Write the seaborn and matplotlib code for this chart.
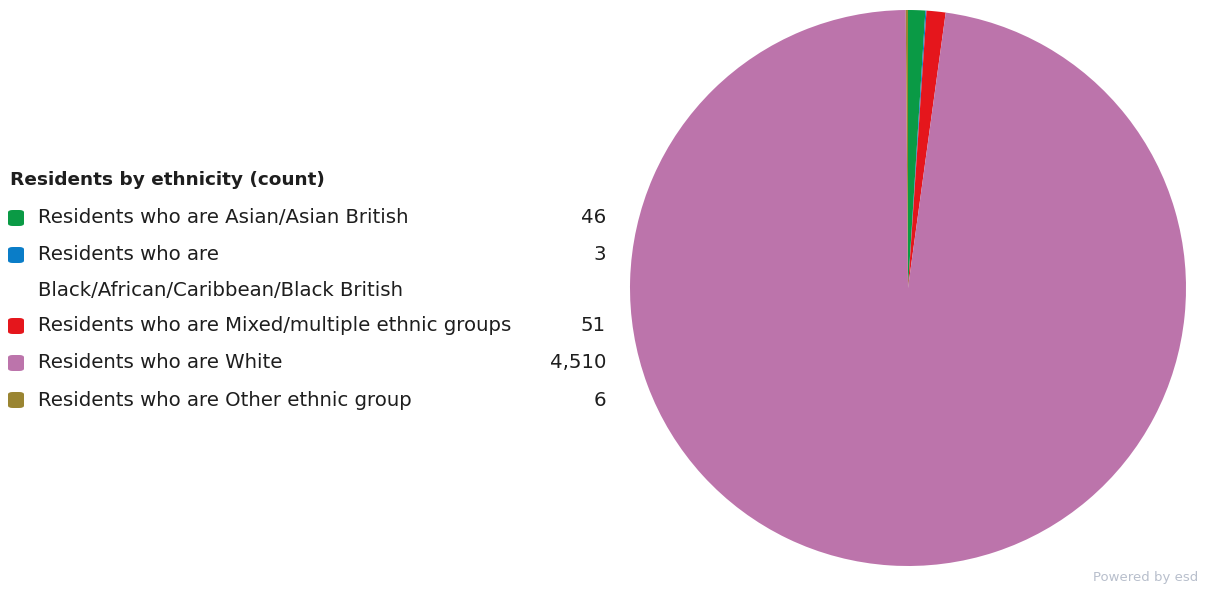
import matplotlib
matplotlib.use("Agg")
import matplotlib.pyplot as plt
from matplotlib.patches import FancyBboxPatch
import seaborn as sns

sns.set_theme(style="white")
plt.rcParams['font.family'] = ['DejaVu Sans']

# data
groups = ["Residents who are Asian/Asian British",
          "Residents who are\nBlack/African/Caribbean/Black British",
          "Residents who are Mixed/multiple ethnic groups",
          "Residents who are White",
          "Residents who are Other ethnic group"]
counts = [46, 3, 51, 4510, 6]
colours = ["#0a9a45", "#0a7dc8", "#e5161c", "#bc74ab", "#9a8532"]
palette = sns.color_palette(colours)

fig = plt.figure(figsize=(12.05, 5.90), dpi=100)
W, H = 1205, 590

# pie
cx, cy, r = 908, 288, 278
ax = fig.add_axes([(cx - r) / W, (H - cy - r) / H, 2 * r / W, 2 * r / H])
ax.pie(counts, colors=palette, startangle=90, counterclock=False,
       radius=1, wedgeprops=dict(linewidth=0))
ax.set_xlim(-1, 1)
ax.set_ylim(-1, 1)
ax.set_aspect("equal")
ax.axis("off")

# legend, drawn by hand to mimic the html table
fs = 14.2
fig.text(10 / W, 1 - 180 / H, "Residents by ethnicity (count)", fontsize=13.3,
         fontweight="bold", va="center", ha="left", color="#1e1e1e")
row_y = [218, 255, 326, 363, 400]
for name, n, c, y in zip(groups, counts, palette, row_y):
    box = FancyBboxPatch((8 / W, 1 - (y + 8) / H), 16 / W, 16 / H,
                         boxstyle="round,pad=0,rounding_size=0.004",
                         transform=fig.transFigure, facecolor=c,
                         edgecolor="none")
    fig.patches.append(box)
    lines = name.split("\n")
    for k, line in enumerate(lines):
        fig.text(38 / W, 1 - (y + 35 * k) / H, line, fontsize=fs,
                 va="center", ha="left", color="#1e1e1e")
    fig.text(606 / W, 1 - y / H, f"{n:,}", fontsize=fs, va="center",
             ha="right", color="#1e1e1e")

fig.text(1198 / W, 1 - 578 / H, "Powered by esd", fontsize=9.5,
         color="#b8bfcc", ha="right", va="center")

fig.savefig("out.png", dpi=100, facecolor="white")
